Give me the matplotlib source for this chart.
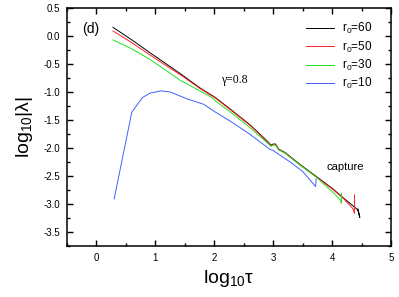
import matplotlib
matplotlib.use("Agg")
import matplotlib.pyplot as plt
from matplotlib.ticker import MultipleLocator

plt.rcParams['font.family'] = ['Liberation Sans', 'DejaVu Sans']
plt.rcParams['mathtext.fontset'] = 'custom'
plt.rcParams['mathtext.rm'] = 'Liberation Sans'
plt.rcParams['mathtext.it'] = 'Liberation Sans:italic'
plt.rcParams['axes.unicode_minus'] = False

# r0 = 60 (black)
x60 = [0.28, 0.6, 0.91, 1.2, 1.42, 1.76, 2.02, 2.3, 2.61, 2.92, 2.96, 3.0, 3.04, 3.09, 3.2, 3.45, 3.72, 4.0, 4.2, 4.43, 4.45, 4.47, 4.45, 4.44]
y60 = [0.155, -0.07, -0.30, -0.51, -0.67, -0.93, -1.10, -1.33, -1.59, -1.90, -1.95, -1.93, -1.93, -2.02, -2.08, -2.29, -2.50, -2.72, -2.90, -3.10, -3.15, -3.24, -3.15, -3.09]
# r0 = 50 (red)
x50 = [0.28, 0.6, 0.91, 1.2, 1.42, 1.76, 2.02, 2.3, 2.61, 2.92, 2.96, 3.0, 3.04, 3.09, 3.2, 3.45, 3.72, 4.0, 4.2, 4.35, 4.38, 4.38]
y50 = [0.09, -0.12, -0.34, -0.54, -0.69, -0.94, -1.11, -1.34, -1.60, -1.91, -1.96, -1.94, -1.94, -2.03, -2.09, -2.30, -2.51, -2.73, -2.91, -3.08, -3.17, -2.84]
# r0 = 30 (green)
x30 = [0.28, 0.6, 0.91, 1.2, 1.42, 1.93, 2.02, 2.3, 2.61, 2.92, 2.96, 3.0, 3.04, 3.09, 3.2, 3.45, 3.72, 4.03, 4.14, 4.16, 4.16]
y30 = [-0.07, -0.23, -0.42, -0.63, -0.79, -1.08, -1.16, -1.38, -1.64, -1.93, -1.97, -1.95, -1.95, -2.03, -2.09, -2.30, -2.51, -2.81, -2.93, -2.99, -2.81]
# r0 = 10 (blue)
x10 = [0.3, 0.6, 0.78, 0.91, 1.1, 1.25, 1.53, 1.82, 2.02, 2.3, 2.61, 2.9, 2.95, 2.99, 3.3, 3.5, 3.72, 3.73]
y10 = [-2.91, -1.36, -1.10, -1.02, -0.98, -1.00, -1.12, -1.22, -1.36, -1.54, -1.76, -1.99, -2.03, -2.04, -2.26, -2.42, -2.69, -2.55]

labels = [r'r$_0$=60', r'r$_0$=50', r'r$_0$=30', r'r$_0$=10']
colors = ['black', '#ff2020', '#20e020', '#4060ff']

fig = plt.figure(figsize=(3.99, 2.97), dpi=100)
ax = fig.add_axes([0.168, 0.172, 0.812, 0.801])

for xs, ys, lab, c in zip([x60, x50, x30, x10], [y60, y50, y30, y10], labels, colors):
    ax.plot(xs, ys, color=c, lw=0.7, label=lab)

ax.set_xlim(-0.5, 5.0)
ax.set_ylim(-3.75, 0.5)
ax.xaxis.set_major_locator(MultipleLocator(1))
ax.xaxis.set_minor_locator(MultipleLocator(0.5))
ax.yaxis.set_major_locator(MultipleLocator(0.5))
ax.yaxis.set_minor_locator(MultipleLocator(0.25))
ax.set_xticks([0, 1, 2, 3, 4, 5])
ax.set_xticklabels(['0', '1', '2', '3', '4', '5'])
ax.set_yticks([-3.5, -3.0, -2.5, -2.0, -1.5, -1.0, -0.5, 0.0, 0.5])
ax.set_yticklabels(['-3.5', '-3.0', '-2.5', '-2.0', '-1.5', '-1.0', '-0.5', '0.0', '0.5'])
ax.tick_params(which='both', direction='in', top=True, right=True, labelsize=7, width=1.0)
ax.tick_params(which='major', length=4, pad=5)
ax.tick_params(which='minor', length=2.5)
for s in ax.spines.values():
    s.set_linewidth(1.1)

ax.set_xlabel(r'$\mathregular{log_{10}}$τ', fontsize=14, labelpad=4)
ax.set_ylabel(r'$\mathregular{log_{10}|λ|}$', fontsize=14, labelpad=6)

ax.text(-0.09, 0.125, '(d)', fontsize=10, ha='center', va='center')
ax.text(2.34, -0.79, 'γ=0.8', fontsize=8.5, ha='center', va='center', family=['Liberation Serif', 'DejaVu Serif'])
ax.text(4.23, -2.34, 'capture', fontsize=8, ha='center', va='center')

ax.legend(loc='upper right', frameon=False, fontsize=8.5, handlelength=2.4,
          handletextpad=0.7, labelspacing=0.28, borderaxespad=0.2,
          bbox_to_anchor=(0.965, 0.975))

fig.savefig('out.png', dpi=100)
